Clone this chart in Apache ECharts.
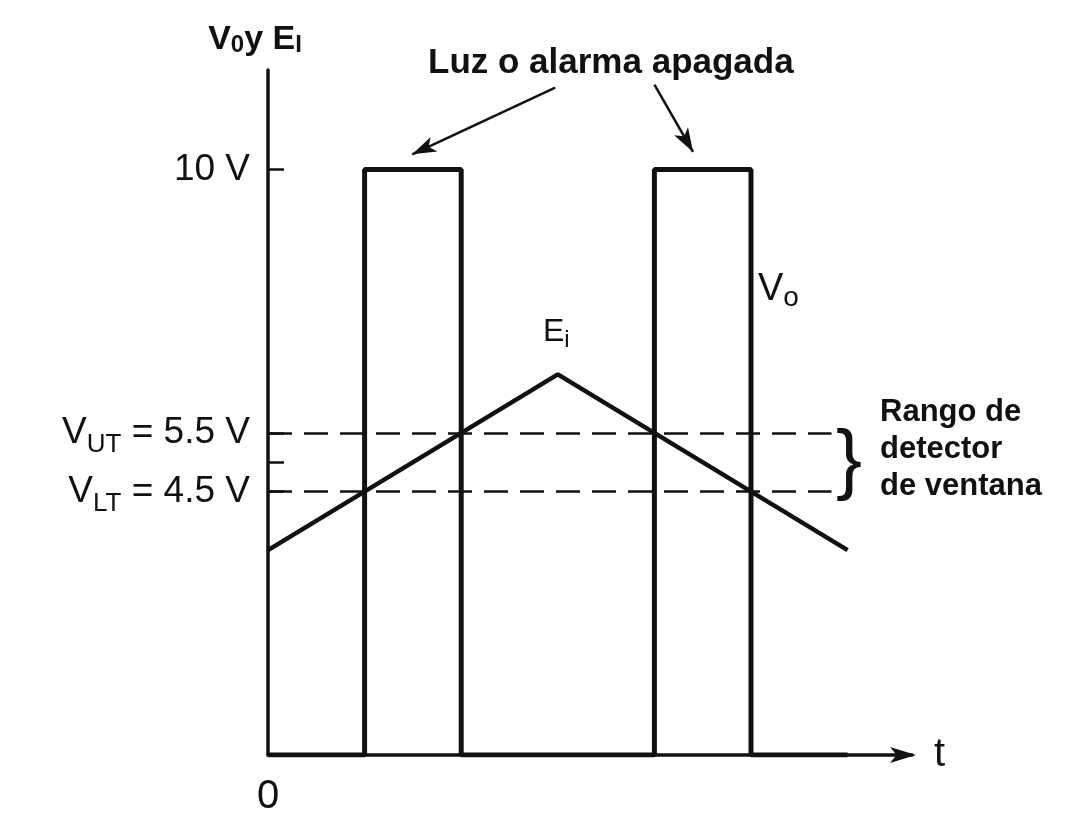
<!DOCTYPE html>
<html>
<head>
<meta charset="utf-8">
<title>Detector de ventana</title>
<script src="https://cdn.jsdelivr.net/npm/echarts@6/dist/echarts.min.js"></script>
<style>
  html, body { margin: 0; padding: 0; background: #fff; }
  #chart { width: 1072px; height: 819px; }
</style>
</head>
<body>
<div id="chart"></div>
<script>
// salida Vo (comparador de ventana): tiempo / nivel en V
const voTime = [0, 1.5, 1.5, 3, 3, 6, 6, 7.5, 7.5, 9];
const voLevel = [0, 0, 10, 10, 0, 0, 10, 10, 0, 0];

// entrada Ei (rampa triangular)
const eiTime = [0, 4.5, 9];
const eiLevel = [3.5, 6.5, 3.5];

// umbrales VUT / VLT y hasta donde llega la linea punteada
const thresholds = [5.5, 4.5];
const thresholdEnd = 8.75;

// marcas del eje vertical
const yTickValues = [4.5, 5, 5.5, 10];
const yLabelValues = [4.5, 5.5, 10];
const yLabelText = {
  10: "{v|10 V}",
  5.5: "{v|V}{s|UT}{v| = 5.5 V}",
  4.5: "{v|V}{s|LT}{v| = 4.5 V}",
};

// flechas "Luz o alarma apagada": [desde, hasta] en (t, V)
const arrows = [
  [[4.46, 11.4], [2.24, 10.26]],
  [[6.0, 11.45], [6.6, 10.3]],
];

const FONT = "Liberation Sans, Arial, sans-serif";
const INK = "#111";

const chart = echarts.init(document.getElementById("chart"));

chart.setOption({
  animation: false,
  backgroundColor: "#fff",
  grid: { left: 268, right: 160, top: 70, bottom: 64 },
  xAxis: {
    type: "value",
    min: 0,
    max: 10,
    name: "t",
    nameLocation: "end",
    nameGap: 22,
    nameTextStyle: { fontFamily: FONT, fontSize: 40, color: INK, verticalAlign: "middle", padding: [8, 0, 0, 0] },
    axisLine: {
      show: true,
      symbol: ["none", "arrow"],
      symbolSize: [12, 26],
      symbolOffset: [0, 4],
      lineStyle: { color: INK, width: 3.5 },
    },
    axisTick: { show: false },
    splitLine: { show: false },
    axisLabel: {
      customValues: [0],
      margin: 22,
      fontFamily: FONT,
      fontSize: 40,
      color: INK,
    },
  },
  yAxis: {
    type: "value",
    min: 0,
    max: 11.7,
    name: "{v|V}{s|0}{v|y E}{s|I}",
    nameLocation: "end",
    nameGap: 10,
    nameTextStyle: {
      align: "center",
      padding: [0, 26, 0, 0],
      rich: {
        v: { fontFamily: FONT, fontSize: 34, fontWeight: "bold", color: INK, lineHeight: 40 },
        s: { fontFamily: FONT, fontSize: 24, fontWeight: "bold", color: INK, lineHeight: 40, padding: [10, 0, 0, 0] },
      },
    },
    axisLine: { show: true, lineStyle: { color: INK, width: 3.5 } },
    axisTick: {
      show: true,
      inside: true,
      length: 16,
      customValues: yTickValues,
      lineStyle: { color: INK, width: 2.5 },
    },
    splitLine: { show: false },
    axisLabel: {
      customValues: yLabelValues,
      margin: 18,
      formatter: (value) => yLabelText[value] || "",
      rich: {
        v: { fontFamily: FONT, fontSize: 37, color: INK, lineHeight: 44 },
        s: { fontFamily: FONT, fontSize: 26, color: INK, lineHeight: 44, padding: [24, 0, 0, 0] },
      },
    },
  },
  series: [
    {
      name: "Vo",
      type: "line",
      data: voTime.map((t, i) => [t, voLevel[i]]),
      symbol: "none",
      lineStyle: { color: INK, width: 5 },
      z: 3,
      markLine: {
        silent: true,
        symbol: ["none", "arrow"],
        symbolSize: [12, 24],
        label: { show: false },
        lineStyle: { color: INK, width: 2.5, type: "solid" },
        data: arrows.map(([from, to]) => [{ coord: from }, { coord: to }]),
      },
    },
    {
      name: "Ei",
      type: "line",
      data: eiTime.map((t, i) => [t, eiLevel[i]]),
      symbol: "none",
      lineStyle: { color: INK, width: 4.5 },
      z: 3,
      markLine: {
        silent: true,
        symbol: ["none", "none"],
        label: { show: false },
        lineStyle: { color: INK, width: 2.5, type: [24, 12] },
        data: thresholds.map((v) => [{ coord: [0, v] }, { coord: [thresholdEnd, v] }]),
      },
    },
  ],
  graphic: [
    {
      type: "text",
      left: 428,
      top: 46,
      style: { text: "Luz o alarma apagada", font: "bold 35px " + FONT, fill: INK },
    },
    {
      type: "text",
      left: 758,
      top: 268,
      style: {
        text: "{v|V}{s|o}",
        rich: {
          v: { font: "38px " + FONT, fill: INK, lineHeight: 44 },
          s: { font: "28px " + FONT, fill: INK, lineHeight: 44, padding: [16, 0, 0, 0] },
        },
      },
    },
    {
      type: "text",
      left: 543,
      top: 312,
      style: {
        text: "{v|E}{s|i}",
        rich: {
          v: { font: "32px " + FONT, fill: INK, lineHeight: 38 },
          s: { font: "24px " + FONT, fill: INK, lineHeight: 38, padding: [16, 0, 0, 0] },
        },
      },
    },
    {
      type: "text",
      left: 836,
      top: 424,
      style: { text: "}", font: "78px " + FONT, fill: INK },
    },
    {
      type: "text",
      left: 880,
      top: 394,
      style: {
        text: "Rango de\ndetector\nde ventana",
        font: "bold 31px " + FONT,
        fill: INK,
        lineHeight: 37,
      },
    },
  ],
});
</script>
</body>
</html>
